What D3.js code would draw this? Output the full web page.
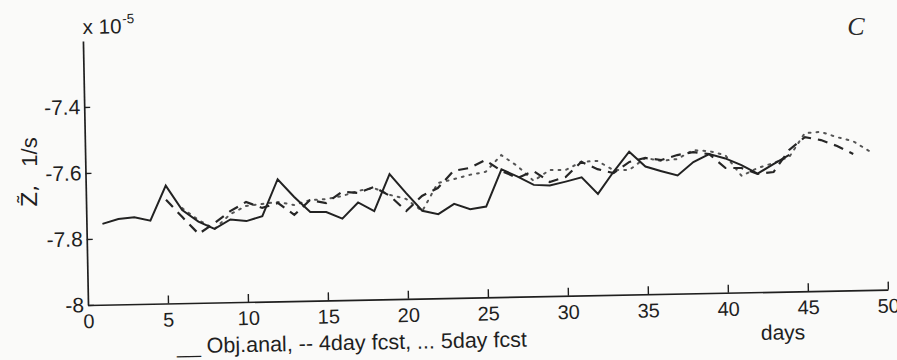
<!DOCTYPE html>
<html><head><meta charset="utf-8">
<script src="https://cdn.jsdelivr.net/npm/d3@7"></script>
<style>
html,body{margin:0;padding:0;background:#fafaf9;}
svg{display:block;}
</style></head><body>
<svg id="chart" width="897" height="360"></svg>
<script>
// ---- data ----
const objStartDay = 1;
const objAnal = [
  -7.755, -7.741, -7.737, -7.748, -7.643, -7.718, -7.754, -7.777, -7.749, -7.755,
  -7.741, -7.630, -7.684, -7.731, -7.732, -7.753, -7.705, -7.732, -7.621, -7.679,
  -7.734, -7.745, -7.715, -7.732, -7.725, -7.613, -7.636, -7.662, -7.665, -7.654,
  -7.642, -7.693, -7.627, -7.567, -7.613, -7.628, -7.642, -7.602, -7.579, -7.593,
  -7.614, -7.641, -7.613, -7.586
];
const fcst4StartDay = 5;
const fcst4 = [
  -7.686, -7.739, -7.791, -7.759, -7.724, -7.697, -7.716, -7.702, -7.739, -7.695,
  -7.705, -7.672, -7.676, -7.659, -7.687, -7.734, -7.689, -7.666, -7.615, -7.607,
  -7.584, -7.618, -7.640, -7.620, -7.654, -7.640, -7.595, -7.618, -7.631, -7.598,
  -7.587, -7.594, -7.580, -7.572, -7.579, -7.622, -7.623, -7.642, -7.637, -7.571,
  -7.533, -7.543, -7.562, -7.587
];
const fcst5StartDay = 6;
const fcst5 = [
  -7.712, -7.749, -7.777, -7.733, -7.709, -7.704, -7.699, -7.709, -7.695, -7.693,
  -7.685, -7.670, -7.662, -7.684, -7.697, -7.735, -7.651, -7.640, -7.628, -7.620,
  -7.570, -7.604, -7.650, -7.618, -7.619, -7.595, -7.593, -7.622, -7.622, -7.587,
  -7.597, -7.592, -7.566, -7.570, -7.583, -7.647, -7.624, -7.610, -7.592, -7.521,
  -7.518, -7.535, -7.548, -7.579
];
const xTicks = [0, 5, 10, 15, 20, 25, 30, 35, 40, 45, 50];
const yTicks = [-8, -7.8, -7.6, -7.4];
const xDomain = [0, 50];
const yDomain = [-8, -7.2];
const scaleNote = ["x 10", "-5"];
const yLabel = ["Z\u0303,", "1/s"];
const xLabel = "days";
const legendText = "__ Obj.anal, -- 4day fcst, ... 5day fcst";
const panelTag = "C";

// ---- drawing ----
const FONT = '"Liberation Sans", Arial, Helvetica, sans-serif';
const INK = "#1f1f1f";
const svg = d3.select("#chart");
svg.append("rect").attr("width", 897).attr("height", 360).attr("fill", "#fafaf9");

const plotW = 800, plotH = 264;
const x = d3.scaleLinear().domain(xDomain).range([0, plotW]);
const y = d3.scaleLinear().domain(yDomain).range([0, -plotH]);

// scanned page is slightly rotated
const g = svg.append("g").attr("transform", "translate(88,305) rotate(-1.1)");

const fmt = d => String(+(+d).toFixed(1));

const xAxis = g.append("g")
  .call(d3.axisBottom(x).tickValues(xTicks).tickFormat(fmt).tickSizeInner(-8).tickSizeOuter(0).tickPadding(9));
const yAxis = g.append("g")
  .call(d3.axisLeft(y).tickValues(yTicks).tickFormat(fmt).tickSizeInner(-6).tickSizeOuter(0).tickPadding(4));
[xAxis, yAxis].forEach(a => {
  a.attr("font-family", null).attr("font-size", null);
  a.selectAll("path.domain").attr("stroke", INK).attr("stroke-width", 1.7);
  a.selectAll(".tick line").attr("stroke", INK).attr("stroke-width", 1.4);
  a.selectAll(".tick text").attr("fill", INK).style("font-family", FONT).style("font-size", "20px");
});
yAxis.selectAll(".tick text").style("font-size", "21px");
xAxis.selectAll(".tick").filter(d => d === 0).select("line").remove();

const line = d3.line().x(d => x(d[0])).y(d => y(d[1]));
const toPts = (start, vals) => vals.map((v, i) => [start + i, v]);

g.append("path").datum(toPts(fcst5StartDay, fcst5))
  .attr("d", line).attr("fill", "none").attr("stroke", "#555")
  .attr("stroke-width", 2).attr("stroke-dasharray", "1.8,6").attr("stroke-linecap", "round");
g.append("path").datum(toPts(fcst4StartDay, fcst4))
  .attr("d", line).attr("fill", "none").attr("stroke", "#262626")
  .attr("stroke-width", 2.2).attr("stroke-dasharray", "10,7");
g.append("path").datum(toPts(objStartDay, objAnal))
  .attr("d", line).attr("fill", "none").attr("stroke", "#222")
  .attr("stroke-width", 2).attr("stroke-linejoin", "miter");

// scale note
const note = g.append("text").attr("x", 0).attr("y", y(-7.2) - 7)
  .style("font-family", FONT).style("font-size", "20.5px").attr("fill", INK);
note.append("tspan").text(scaleNote[0]);
note.append("tspan").attr("dy", -10).attr("dx", 1).style("font-size", "13.5px").text(scaleNote[1]);

// x label & legend
g.append("text").attr("x", x(43.4)).attr("y", 48).attr("text-anchor", "middle")
  .style("font-family", FONT).style("font-size", "21px").attr("fill", INK).text(xLabel);
g.append("text").attr("x", 88).attr("y", 50).attr("text-anchor", "start")
  .style("font-family", FONT).style("font-size", "21.5px").attr("fill", INK)
  .attr("xml:space", "preserve").text(legendText);

// y label
const yl = svg.append("text").attr("transform", "translate(37,172) rotate(-90)")
  .attr("text-anchor", "middle").style("font-family", FONT).style("font-size", "22px").attr("fill", INK);
yl.append("tspan").style("font-family", '"DejaVu Sans", sans-serif').text(yLabel[0]);
yl.append("tspan").attr("dx", 18).text(yLabel[1]);

// panel tag
svg.append("text").attr("x", 856).attr("y", 35).attr("text-anchor", "middle")
  .style("font-family", '"Liberation Serif", serif').style("font-style", "italic").style("font-size", "26px")
  .attr("fill", "#2a2a2a").text(panelTag);
</script>
</body></html>
